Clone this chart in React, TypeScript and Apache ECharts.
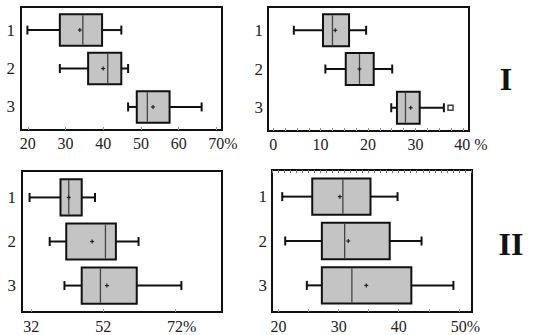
import React, { useEffect, useRef } from 'react';
import * as echarts from 'echarts';

const categories = ['1', '2', '3'];

// each row: [min, Q1, median, Q3, max, mean]
const panel1Stats = [
  [19.9, 28.5, 34.6, 39.7, 44.8, 33.8],
  [28.5, 36.0, 41.2, 44.8, 46.6, 40.0],
  [46.6, 48.9, 51.7, 57.6, 66.1, 53.2],
];
const panel2Stats = [
  [4.35, 10.5, 12.5, 16.0, 19.6, 13.1],
  [11.0, 15.3, 18.2, 21.2, 25.1, 18.2],
  [24.9, 26.1, 27.9, 30.9, 36.0, 29.0],
];
// [value, category index]
const panel2Outliers = [[37.4, 2]];
const panel3Stats = [
  [31.5, 40.1, 42.4, 46.0, 49.7, 42.4],
  [37.1, 41.7, 52.6, 55.5, 61.8, 48.9],
  [41.2, 46.0, 51.2, 61.3, 73.7, 53.0],
];
const panel4Stats = [
  [20.6, 25.6, 30.7, 35.3, 39.8, 30.2],
  [21.1, 27.2, 31.0, 38.5, 43.8, 31.6],
  [24.7, 27.2, 32.2, 42.1, 49.1, 34.6],
];

const ticks1 = [20, 30, 40, 50, 60, 70];
const labels1 = ['20', '30', '40', '50', '60', '70%'];
const ticks2 = [0, 10, 20, 30, 40];
const labels2 = ['0', '10', '20', '30', '40 %'];
const ticks3 = [32, 52, 72];
const labels3 = ['32', '52', '72%'];
const ticks4 = [20, 30, 40, 50];
const labels4 = ['20', '30', '40', '50%'];

const minor2 = [0, 2.5, 5, 7.5, 10, 12.5, 15, 17.5, 20, 22.5, 25, 27.5, 30, 32.5, 35, 37.5, 40];
const minor4Top = [19, 20, 21, 22, 23, 24, 25, 26, 27, 28, 29, 30, 31, 32, 33, 34, 35, 36, 37, 38, 39, 40, 41, 42, 43, 44, 45, 46, 47, 48, 49, 50, 51, 52];
const minor4Bottom = [20, 25, 30, 35, 40, 45, 50];

const panelNames = ['I', 'II'];

const FONT = 'Liberation Serif';

const grids = [
  { left: 21, top: 7, width: 201, height: 123 },
  { left: 268, top: 7, width: 201, height: 124 },
  { left: 22, top: 171, width: 200, height: 141 },
  { left: 272, top: 170, width: 200, height: 142 },
];

const ranges = [
  [18.2, 71.5],
  [-1.1, 41.3],
  [29.4, 85.0],
  [18.9, 52.2],
];

const renderBox = (params: any, api: any) => {
  const cat = api.value(0);
  const v = [1, 2, 3, 4, 5, 6].map((i) => api.value(i));
  const xs = v.map((val) => api.coord([val, cat])[0]);
  const y = api.coord([v[2], cat])[1];
  const unit = Math.abs(api.size([0, 1])[1]);
  const h = unit * 0.82;
  const cap = 4.5;
  const stroke = '#111';
  const lw = 2;
  return {
    type: 'group',
    children: [
      { type: 'line', shape: { x1: xs[0], y1: y, x2: xs[1], y2: y }, style: { stroke, lineWidth: lw } },
      { type: 'line', shape: { x1: xs[3], y1: y, x2: xs[4], y2: y }, style: { stroke, lineWidth: lw } },
      { type: 'line', shape: { x1: xs[0], y1: y - cap, x2: xs[0], y2: y + cap }, style: { stroke, lineWidth: lw } },
      { type: 'line', shape: { x1: xs[4], y1: y - cap, x2: xs[4], y2: y + cap }, style: { stroke, lineWidth: lw } },
      {
        type: 'rect',
        shape: { x: xs[1], y: y - h / 2, width: xs[3] - xs[1], height: h },
        style: { fill: '#c4c4c4', stroke, lineWidth: lw },
      },
      {
        type: 'line',
        shape: { x1: xs[2], y1: y - h / 2 + 1, x2: xs[2], y2: y + h / 2 - 1 },
        style: { stroke: '#444', lineWidth: 1.3 },
      },
      { type: 'line', shape: { x1: xs[5] - 2, y1: y, x2: xs[5] + 2, y2: y }, style: { stroke: '#222', lineWidth: 1.2 } },
      { type: 'line', shape: { x1: xs[5], y1: y - 2, x2: xs[5], y2: y + 2 }, style: { stroke: '#222', lineWidth: 1.2 } },
    ],
  };
};

const makeFormatter = (ticks: number[], labels: string[]) => (value: number) => {
  let idx = -1;
  ticks.forEach((t, i) => {
    if (Math.abs(t - value) < 1e-6) idx = i;
  });
  if (idx < 0) return '';
  if (idx === ticks.length - 1) return '{pct|' + labels[idx] + '}';
  return labels[idx];
};

const App: React.FC = () => {
  const ref = useRef<HTMLDivElement>(null);

  useEffect(() => {
    if (!ref.current) return;
    const chart = echarts.init(ref.current, undefined, { renderer: 'svg' });

    const allTicks = [ticks1, ticks2, ticks3, ticks4];
    const allLabels = [labels1, labels2, labels3, labels4];
    const minorTicks = [ticks1, minor2, ticks3, minor4Bottom];
    const pctPad = [13, 16, 13, 13];
    const labelMargin = [5, 5, 6, 6];

    const xAxes: any[] = allTicks.map((ticks, i) => ({
      type: 'value',
      gridIndex: i,
      position: 'bottom',
      min: ranges[i][0],
      max: ranges[i][1],
      axisLine: { show: false, onZero: false },
      splitLine: { show: false },
      axisTick: {
        show: true,
        inside: true,
        length: 3,
        customValues: minorTicks[i],
        lineStyle: { color: '#999', width: 1 },
      },
      axisLabel: {
        show: true,
        customValues: ticks,
        formatter: makeFormatter(ticks, allLabels[i]),
        fontSize: 16,
        fontFamily: FONT,
        color: '#222',
        margin: labelMargin[i],
        rich: {
          pct: { fontSize: 16, fontFamily: FONT, color: '#222', padding: [0, 0, 0, pctPad[i]] },
        },
      },
    }));
    xAxes.push({
      type: 'value',
      gridIndex: 3,
      position: 'top',
      min: ranges[3][0],
      max: ranges[3][1],
      axisLine: { show: false, onZero: false },
      splitLine: { show: false },
      axisLabel: { show: false },
      axisTick: {
        show: true,
        inside: true,
        length: 3,
        customValues: minor4Top,
        lineStyle: { color: '#777', width: 1 },
      },
    });

    const catIdx = categories.map((_, i) => i);
    const yAxes = grids.map((_, i) => ({
      type: 'value',
      gridIndex: i,
      min: -0.6,
      max: 2.6,
      inverse: true,
      axisLine: { show: false, onZero: false },
      axisTick: { show: false },
      splitLine: { show: false },
      axisLabel: {
        customValues: catIdx,
        formatter: (v: number) => categories[Math.round(v)] ?? '',
        fontSize: 17,
        fontFamily: FONT,
        color: '#222',
        margin: i % 2 === 0 ? 6 : 5,
      },
    }));

    const stats = [panel1Stats, panel2Stats, panel3Stats, panel4Stats];
    const series: any[] = stats.map((s, i) => ({
      type: 'custom',
      xAxisIndex: i,
      yAxisIndex: i,
      renderItem: renderBox,
      encode: { x: [1, 2, 3, 4, 5, 6], y: 0 },
      data: s.map((row, j) => [j, ...row]),
      clip: false,
      silent: true,
    }));
    series.push({
      type: 'scatter',
      xAxisIndex: 1,
      yAxisIndex: 1,
      symbol: 'rect',
      symbolSize: 5,
      itemStyle: { color: '#fff', borderColor: '#111', borderWidth: 1.5 },
      data: panel2Outliers,
      silent: true,
    });

    chart.setOption({
      animation: false,
      backgroundColor: '#fff',
      textStyle: { fontFamily: FONT },
      grid: grids.map((g) => ({
        ...g,
        show: true,
        borderColor: '#111',
        borderWidth: 2,
        backgroundColor: 'transparent',
        containLabel: false,
      })),
      xAxis: xAxes,
      yAxis: yAxes,
      series,
      graphic: [
        {
          type: 'text',
          x: 506,
          y: 79,
          style: {
            text: panelNames[0],
            fontSize: 32,
            fontWeight: 'bold',
            fontFamily: FONT,
            fill: '#111',
            align: 'center',
            verticalAlign: 'middle',
          },
        },
        {
          type: 'text',
          x: 511,
          y: 244,
          style: {
            text: panelNames[1],
            fontSize: 32,
            fontWeight: 'bold',
            fontFamily: FONT,
            fill: '#111',
            align: 'center',
            verticalAlign: 'middle',
          },
        },
      ],
    });

    return () => {
      chart.dispose();
    };
  }, []);

  return (
    <div
      ref={ref}
      style={{ position: 'fixed', left: 0, top: 0, width: 540, height: 335, background: '#fff' }}
    />
  );
};

export default App;
